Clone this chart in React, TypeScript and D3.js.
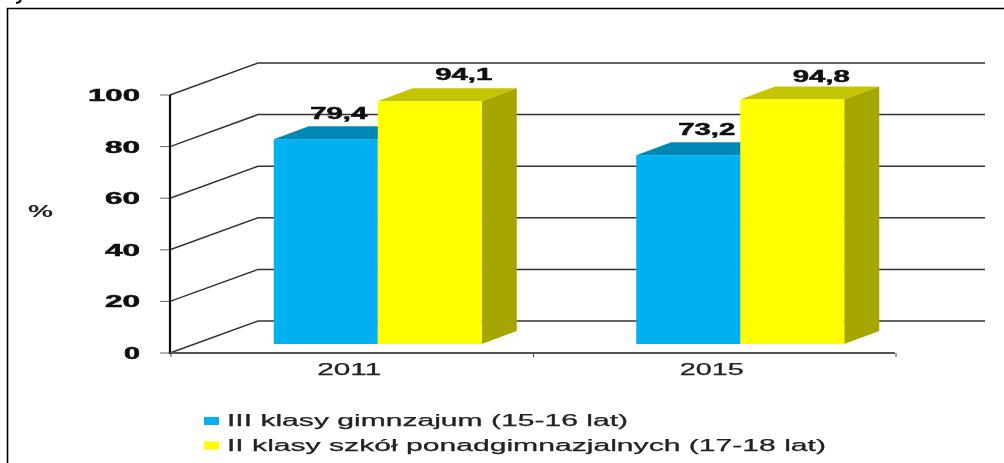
import React from "react";
import * as d3 from "d3";

const categories = ["2011", "2015"];
const seriesNames = ["III klasy gimnzajum (15-16 lat)", "II klasy szkół ponadgimnazjalnych (17-18 lat)"];
const gimnazjum = [79.4, 73.2];
const ponadgimnazjalne = [94.1, 94.8];
const yTicks = [0, 20, 40, 60, 80, 100];
const front = ["#00b0f0", "#ffff00"];
const topFace = ["#0088b4", "#c4c400"];
const sideFace = ["#0080a8", "#a6a600"];

const W = 1004, H = 463;
const FONT = "'Liberation Sans', Arial, sans-serif";
const depthX = 88, depthY = 32;
const barDx = 35, barDy = 13;
const labelDx = [[13, 18.5], [34, 29]];
const labelDy = [[-20, -20], [-21, -17]];
const legendWidths = [401, 599];

export default function App() {
  const y = d3.scaleLinear().domain([0, 100]).range([353, 95]);
  const x = d3.scaleBand().domain(categories).range([170, 895]);
  const series = [gimnazjum, ponadgimnazjalne];
  const barBase = 344;
  const h = (v: number) => y(0) - y(v);
  const barW = 104;
  const barLeft = (c: string) => (x(c) as number) + x.bandwidth() / 2 - barW + 26.5;

  return (
    <svg width={W} height={H} style={{ position: "absolute", left: 0, top: 0, background: "#fff" }}>
      <defs>
        <filter id="soft" x="0" y="0" width="1" height="1" filterUnits="objectBoundingBox">
          <feGaussianBlur stdDeviation="0.45" />
        </filter>
      </defs>
      <g filter="url(#soft)">
        <rect x={0} y={0} width={W} height={H} fill="#fff" />
        <path d="M7.5 463V8.5H1004" fill="none" stroke="#000" strokeWidth={1.6} />
        <path d="M21 0 Q19.5 3 16 3" fill="none" stroke="#111" strokeWidth={2} />

        {yTicks.map((t) => (
          <g key={t}>
            <polyline
              points={`${x.range()[0]},${y(t)} ${x.range()[0] + depthX},${y(t) - depthY} 985,${y(t) - depthY}`}
              fill="none" stroke="#333" strokeWidth={1.5}
            />
            <line x1={160} x2={170} y1={y(t)} y2={y(t)} stroke="#666" strokeWidth={1} />
            <text x={140} y={y(t) + 6} textAnchor="end" fontFamily={FONT} fontWeight="bold" fontSize={16}
              stroke="#111" strokeWidth={0.5}
              textLength={t === 100 ? 52 : t === 0 ? 16 : 35} lengthAdjust="spacingAndGlyphs" fill="#111">{t}</text>
          </g>
        ))}

        <line x1={170} x2={170} y1={95} y2={354} stroke="#111" strokeWidth={2.2} />
        <line x1={170} x2={895} y1={353} y2={353} stroke="#555" strokeWidth={2.2} />
        {[...categories.map((c) => x(c) as number), 895].map((p) => (
          <line key={p} x1={p + 1} x2={p + 1} y1={353} y2={357} stroke="#444" strokeWidth={1} />
        ))}

        {categories.map((c, ci) => {
          const left = barLeft(c);
          return (
            <g key={c}>
              {[0, 1].map((si) => {
                const v = series[si][ci];
                const x0 = left + si * barW;
                const x1 = x0 + barW;
                const top = barBase - h(v);
                return (
                  <g key={si}>
                    <polygon points={`${x0},${top} ${x0 + barDx},${top - barDy} ${x1 + barDx},${top - barDy} ${x1},${top}`} fill={topFace[si]} />
                    <polygon points={`${x1},${top} ${x1 + barDx},${top - barDy} ${x1 + barDx},${barBase - barDy} ${x1},${barBase}`} fill={sideFace[si]} />
                  </g>
                );
              })}
              {[0, 1].map((si) => {
                const v = series[si][ci];
                const x0 = left + si * barW;
                const top = barBase - h(v);
                return <rect key={si} x={x0} y={top} width={barW} height={h(v)} fill={front[si]} />;
              })}
              {[0, 1].map((si) => {
                const v = series[si][ci];
                const x0 = left + si * barW;
                const top = barBase - h(v);
                return (
                  <text key={si} x={x0 + barW / 2 + labelDx[si][ci]} y={top + labelDy[si][ci]} textAnchor="middle" fontFamily={FONT} fontWeight="bold"
                    stroke="#111" strokeWidth={0.5}
                    fontSize={16} textLength={57} lengthAdjust="spacingAndGlyphs" fill="#111">
                    {String(v).replace(".", ",")}
                  </text>
                );
              })}
              <text x={left + barW - 28.5} y={375} textAnchor="middle" fontFamily={FONT} fontSize={16}
                stroke="#222" strokeWidth={0.25}
                textLength={64} lengthAdjust="spacingAndGlyphs" fill="#222">{c}</text>
            </g>
          );
        })}

        <text x={28} y={217} fontFamily={FONT} fontWeight="bold" fontSize={16} textLength={25} lengthAdjust="spacingAndGlyphs" fill="#222">%</text>

        {seriesNames.map((s, i) => (
          <g key={s}>
            <rect x={204} y={417 + i * 24.5} width={15} height={8} fill={front[i]} />
            <text x={227} y={426 + i * 24.5} fontFamily={FONT} fontSize={16}
              stroke="#222" strokeWidth={0.25}
              textLength={legendWidths[i]} lengthAdjust="spacingAndGlyphs" fill="#222">{s}</text>
          </g>
        ))}
      </g>
    </svg>
  );
}
